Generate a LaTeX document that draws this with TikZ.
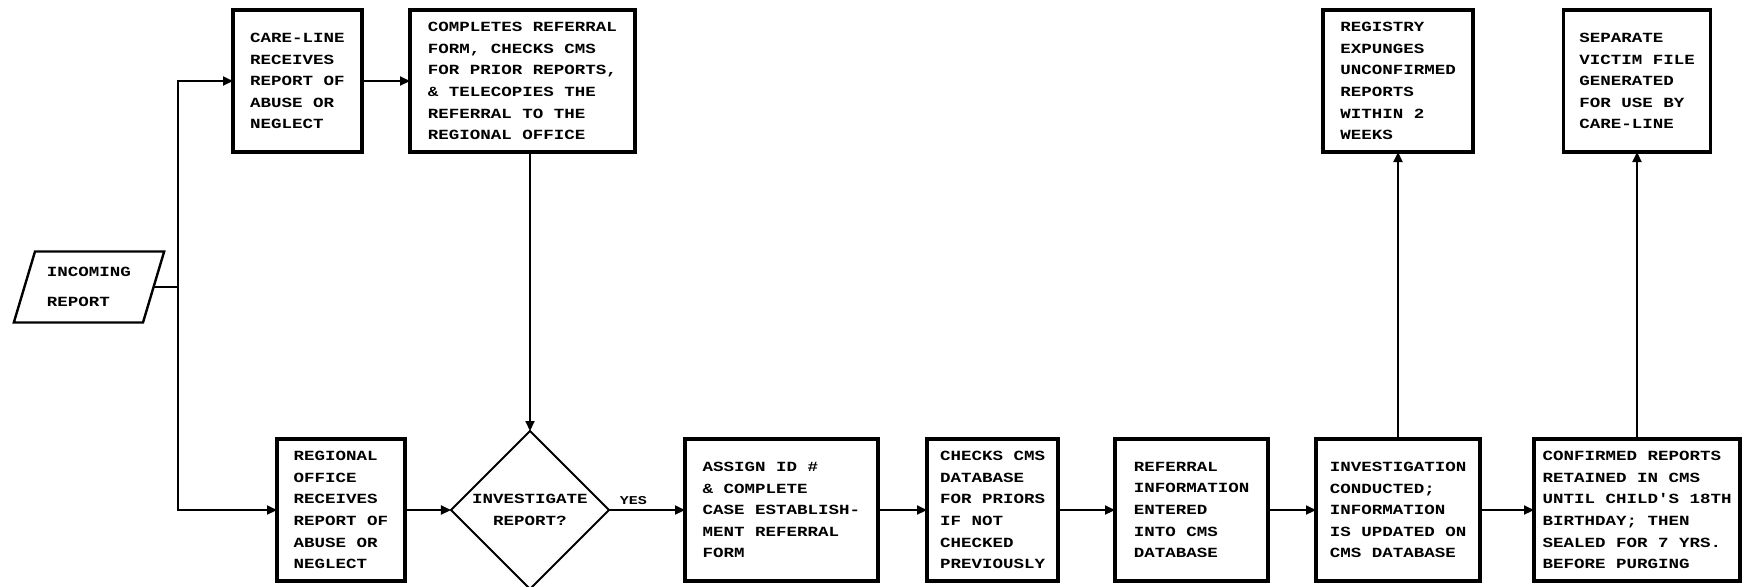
\documentclass[tikz,border=0pt]{standalone}
\usepackage{fontspec}
\newfontfamily\flowfont[FakeStretch=1.25]{Liberation Mono}
\usetikzlibrary{arrows.meta,positioning,shapes.geometric}
\tikzset{
  pbox/.style={
    rectangle, draw=black, line width=1.8pt, fill=white, outer sep=0pt,
    font=\flowfont\bfseries\fontsize{7}{10.8}\selectfont,
    align=left, minimum height=71pt, inner sep=2pt
  },
  decide/.style={
    diamond, draw=black, line width=1pt, outer sep=0pt,
    font=\flowfont\bfseries\fontsize{7}{10.8}\selectfont,
    align=center, minimum width=79pt, minimum height=79pt, inner sep=0pt
  },
  inbox/.style={
    trapezium, trapezium left angle=70, trapezium right angle=110,
    trapezium stretches=true, draw=black, line width=1.2pt, outer sep=0pt,
    font=\flowfont\bfseries\fontsize{7}{10.8}\selectfont,
    align=left, minimum width=75.5pt, minimum height=35.5pt
  },
  yes/.style={above, pos=0.32, inner sep=2pt,
    font=\flowfont\bfseries\fontsize{6}{7}\selectfont},
  arr/.style={-{Triangle[length=5pt,width=4.5pt]}, line width=1pt, black}
}

\begin{document}
\begin{tikzpicture}[x=0.5pt, y=-0.5pt]

\useasboundingbox (0,0) rectangle (1745,586);

\node[inbox] (inc) at (89,287) {INCOMING\\[4pt]REPORT};
\coordinate[right=12pt of inc.east] (split);

% top row
\node[pbox, minimum width=64.5pt] (care) at (297.5,81)
  {CARE-LINE\\RECEIVES\\REPORT OF\\ABUSE OR\\NEGLECT};

\node[pbox, minimum width=112.5pt, right=24pt of care] (fax)
  {COMPLETES REFERRAL\\FORM, CHECKS CMS\\FOR PRIOR REPORTS,\\\& TELECOPIES THE\\REFERRAL TO THE\\REGIONAL OFFICE};

% bottom row
\node[pbox, minimum width=64pt] (reg) at (341,510)
  {REGIONAL\\OFFICE\\RECEIVES\\REPORT OF\\ABUSE OR\\NEGLECT};

\node[decide, right=23pt of reg] (ask) {INVESTIGATE\\REPORT?};

\node[pbox, minimum width=96.5pt, right=38pt of ask] (assign)
  {ASSIGN ID \#\\\& COMPLETE\\CASE ESTABLISH-\\MENT REFERRAL\\FORM};

\node[pbox, minimum width=65.5pt, right=24.5pt of assign] (check)
  {CHECKS CMS\\DATABASE\\FOR PRIORS\\IF NOT\\CHECKED\\PREVIOUSLY};

\node[pbox, minimum width=76.5pt, right=28.5pt of check] (enter)
  {REFERRAL\\INFORMATION\\ENTERED\\INTO CMS\\DATABASE};

\node[pbox, minimum width=82pt, right=24pt of enter] (probe)
  {INVESTIGATION\\CONDUCTED;\\INFORMATION\\IS UPDATED ON\\CMS DATABASE};

\node[pbox, minimum width=103pt, right=27pt of probe] (keep)
  {CONFIRMED REPORTS\\RETAINED IN CMS\\UNTIL CHILD'S 18TH\\BIRTHDAY; THEN\\SEALED FOR 7 YRS.\\BEFORE PURGING};

% outcome boxes above
\node[pbox, minimum width=75pt] (purge) at (probe |- care)
  {REGISTRY\\EXPUNGES\\UNCONFIRMED\\REPORTS\\WITHIN 2\\WEEKS};

\node[pbox, minimum width=73.5pt] (victim) at (keep |- care)
  {SEPARATE\\VICTIM FILE\\GENERATED\\FOR USE BY\\CARE-LINE};

% connectors
\draw[line width=1pt] (inc.east) -- (split);
\draw[arr] (split) |- (care.west);
\draw[arr] (split) |- (reg.west);
\draw[arr] (care) -- (fax);
\draw[arr] (fax.south -| ask.north) -- (ask.north);
\draw[arr] (reg) -- (ask);
\draw[arr] (ask) -- node[yes] {YES} (assign);
\foreach \a/\b in {assign/check, check/enter, enter/probe, probe/keep}
  \draw[arr] (\a) -- (\b);
\draw[arr] (probe) -- (purge);
\draw[arr] (keep) -- (victim);

\end{tikzpicture}
\end{document}
